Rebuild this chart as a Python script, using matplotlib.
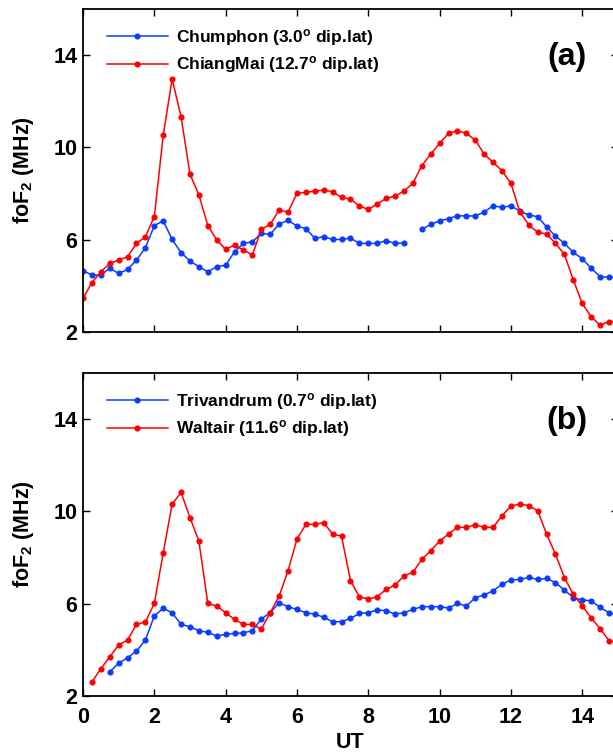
"""foF2 diurnal variation at equatorial / low-latitude ionosonde stations."""
import matplotlib
matplotlib.use("Agg")
import matplotlib.pyplot as plt
import numpy as np

plt.rcParams["font.family"] = ["Liberation Sans", "DejaVu Sans"]
plt.rcParams["font.weight"] = "bold"
plt.rcParams["mathtext.default"] = "regular"

nan = np.nan

# UT hours, 15-min sampling
UT = np.arange(0, 15.01, 0.25)

CHUMPHON = [4.66, 4.47, 4.47, 4.76, 4.54, 4.71, 5.12, 5.65, 6.61, 6.82,
            6.01, 5.44, 5.08, 4.83, 4.61, 4.83, 4.89, 5.48, 5.84, 5.91,
            6.27, 6.23, 6.68, 6.84, 6.59, 6.48, 6.06, 6.13, 6.01, 6.01,
            6.07, 5.84, 5.84, 5.84, 5.96, 5.84, 5.86, nan, 6.45, 6.66,
            6.82, 6.91, 7.04, 7.03, 7.03, 7.20, 7.47, 7.40, 7.47, 7.24,
            7.07, 7.00, 6.55, 6.16, 5.84, 5.45, 5.18, 4.76, 4.40, 4.37,
            4.37]
CHIANGMAI = [3.46, 4.14, 4.61, 4.97, 5.12, 5.26, 5.84, 6.13, 7.00, 10.53,
             12.96, 11.33, 8.84, 7.94, 6.61, 5.99, 5.58, 5.77, 5.55, 5.34,
             6.45, 6.66, 7.29, 7.20, 8.01, 8.05, 8.11, 8.15, 8.08, 7.83,
             7.76, 7.46, 7.31, 7.55, 7.79, 7.89, 8.11, 8.44, 9.21, 9.71,
             10.17, 10.61, 10.72, 10.61, 10.32, 9.71, 9.35, 8.99, 8.44, 7.21,
             6.64, 6.32, 6.25, 5.84, 5.36, 4.25, 3.24, 2.66, 2.30, 2.45,
             2.45]
TRIVANDRUM = [nan, nan, nan, 3.04, 3.42, 3.66, 3.94, 4.43, 5.47, 5.80,
              5.61, 5.10, 5.00, 4.83, 4.76, 4.60, 4.67, 4.71, 4.74, 4.83,
              5.34, 5.61, 6.04, 5.87, 5.75, 5.61, 5.55, 5.41, 5.22, 5.22,
              5.36, 5.58, 5.61, 5.73, 5.70, 5.55, 5.61, 5.75, 5.87, 5.87,
              5.87, 5.81, 6.01, 5.90, 6.26, 6.38, 6.56, 6.84, 7.03, 7.05,
              7.14, 7.05, 7.10, 6.91, 6.59, 6.26, 6.16, 6.13, 5.84, 5.61,
              5.50]
WALTAIR = [nan, 2.61, 3.18, 3.70, 4.21, 4.43, 5.10, 5.21, 6.01, 8.21,
           10.32, 10.82, 9.73, 8.71, 6.01, 5.90, 5.61, 5.32, 5.10, 5.10,
           4.90, 5.61, 6.33, 7.43, 8.80, 9.44, 9.44, 9.51, 9.02, 8.93,
           7.00, 6.30, 6.20, 6.30, 6.62, 6.81, 7.20, 7.36, 7.92, 8.30,
           8.71, 9.02, 9.31, 9.31, 9.42, 9.31, 9.31, 9.81, 10.23, 10.32,
           10.25, 10.03, 9.02, 8.14, 7.13, 6.40, 5.90, 5.39, 4.92, 4.40,
           4.30]

PANELS = [
    ("(a)", ("Chumphon (3.0$^{o}$ dip.lat)", CHUMPHON),
            ("ChiangMai (12.7$^{o}$ dip.lat)", CHIANGMAI)),
    ("(b)", ("Trivandrum (0.7$^{o}$ dip.lat)", TRIVANDRUM),
            ("Waltair (11.6$^{o}$ dip.lat)", WALTAIR)),
]
BLUE = "#0a3cff"
RED = "#ff0000"
TICK_FS = 15.5


def style_axes(ax, show_xlabels):
    ax.set_xlim(0, 15)
    ax.set_ylim(2, 16)
    ax.set_xticks(range(0, 15, 2))
    ax.set_yticks([2, 6, 10, 14])
    ax.tick_params(direction="in", length=5, width=1, top=True, right=True,
                   labelsize=TICK_FS)
    ax.tick_params(axis="y", pad=4)
    ax.tick_params(axis="x", pad=8, labelbottom=show_xlabels)
    for sp in ax.spines.values():
        sp.set_linewidth(1.3)
    ax.set_ylabel("foF$_2$ (MHz)", fontsize=15.5, fontweight="bold")
    ax.yaxis.set_label_coords(-0.088, 0.5)


fig = plt.figure(figsize=(6.13, 7.53), dpi=100)
axes = [fig.add_axes([0.1354, 0.5591, 0.8726, 0.4290]),
        fig.add_axes([0.1354, 0.0757, 0.8726, 0.4290])]

for ax, (tag, (lab1, s1), (lab2, s2)) in zip(axes, PANELS):
    ax.plot(UT, s1, "-o", color=BLUE, lw=1.1, ms=3.4, label=lab1)
    ax.plot(UT, s2, "-o", color=RED, lw=1.1, ms=3.4, label=lab2)
    style_axes(ax, show_xlabels=(tag == "(b)"))
    ax.legend(loc="upper left", bbox_to_anchor=(0.045, 0.945), frameon=False,
              borderpad=0, borderaxespad=0, handlelength=3.5,
              handletextpad=0.45, labelspacing=0.38,
              prop={"size": 12.5, "weight": "bold"})
    ax.text(0.905, 0.851, tag, transform=ax.transAxes, ha="center",
            va="center", fontsize=23, fontweight="bold")

axes[1].set_xlabel("UT", fontsize=15.5, fontweight="bold", labelpad=3)

fig.savefig("out.png", dpi=100)
